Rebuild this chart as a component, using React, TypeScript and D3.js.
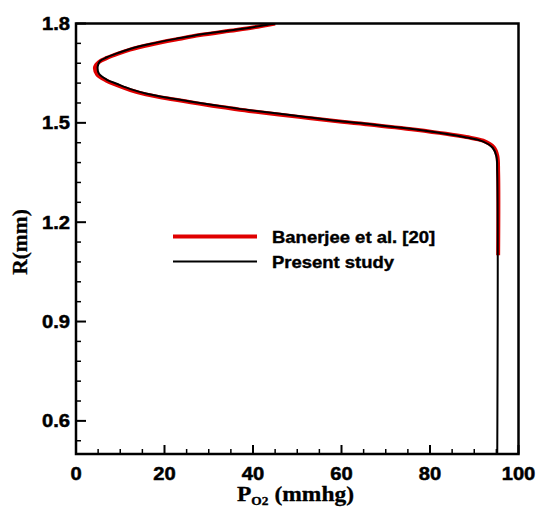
import React from 'react';
import * as d3 from 'd3';

// P_O2 (mmhg) vs R (mm)
const presentP = [45.0, 40.0, 34.8, 28.0, 23.5, 16.7, 12.2, 9.5, 7.0, 5.4, 4.9, 5.2, 7.0, 9.2, 12.5, 16.0, 22.0, 28.0, 33.5, 39.3, 50.6, 60.3, 65.6, 76.9, 88.2, 91.9, 94.2, 95.0, 95.2, 95.2];
const presentR = [1.8, 1.789, 1.779, 1.767, 1.756, 1.738, 1.723, 1.711, 1.698, 1.686, 1.67, 1.648, 1.63, 1.618, 1.601, 1.588, 1.573, 1.56, 1.549, 1.538, 1.52, 1.504, 1.497, 1.48, 1.456, 1.444, 1.424, 1.399, 1.35, 0.5];

const banerjeeP = [45.0, 40.0, 34.8, 28.0, 23.5, 16.7, 12.2, 9.5, 7.0, 5.2, 4.3, 4.8, 6.8, 9.0, 12.3, 15.8, 21.8, 27.8, 33.3, 39.1, 50.4, 60.1, 65.5, 76.8, 88.2, 92.0, 94.4, 95.2, 95.4, 95.4];
const banerjeeR = [1.8, 1.788, 1.778, 1.765, 1.754, 1.736, 1.721, 1.709, 1.696, 1.684, 1.668, 1.646, 1.628, 1.615, 1.599, 1.586, 1.571, 1.558, 1.547, 1.536, 1.518, 1.503, 1.496, 1.479, 1.457, 1.446, 1.426, 1.401, 1.35, 1.1];

const xMajor = [0, 20, 40, 60, 80, 100];
const yMajor = [0.6, 0.9, 1.2, 1.5, 1.8];
const legendLabels = ['Banerjee et al. [20]', 'Present study'];

const W = 539;
const H = 509;
const left = 76, right = 518.5, top = 23.5, bottom = 454;
const sx = 1.12; // text is slightly wide in the reference

export default function App() {
  const x = d3.scaleLinear([0, 100], [left, right]);
  const y = d3.scaleLinear([0.5, 1.8], [bottom, top]);

  const xMinor = d3.range(0, 100.01, 5).filter(v => !xMajor.includes(v));
  const yMinor = d3.range(0.54, 1.8, 0.06).filter(v => !yMajor.some(m => Math.abs(m - v) < 1e-6));

  const line = d3.line<[number, number]>()
    .x(d => x(d[0]))
    .y(d => y(d[1]))
    .curve(d3.curveCatmullRom.alpha(0.5));

  const present = presentP.map((p, i) => [p, presentR[i]] as [number, number]);
  const banerjee = banerjeeP.map((p, i) => [p, banerjeeR[i]] as [number, number]);

  const sans = "'Liberation Sans', Arial, sans-serif";
  const serif = "'Liberation Serif', 'Times New Roman', serif";

  return (
    <svg width={W} height={H} style={{ position: 'absolute', left: 0, top: 0, background: '#fff' }}>
      <defs>
        <clipPath id="plot">
          <rect x={left} y={top} width={right - left} height={bottom - top} />
        </clipPath>
      </defs>

      <g clipPath="url(#plot)" fill="none" strokeLinejoin="round">
        <path d={line(banerjee) || ''} stroke="#e00000" strokeWidth={4} />
        <path d={line(present) || ''} stroke="#000" strokeWidth={2} />
      </g>

      {/* ticks */}
      <g stroke="#000">
        {xMajor.map(v => <line key={'xM' + v} x1={x(v)} x2={x(v)} y1={bottom} y2={bottom - 9} strokeWidth={2} />)}
        {xMinor.map(v => <line key={'xm' + v} x1={x(v)} x2={x(v)} y1={bottom} y2={bottom - 5} strokeWidth={1.5} />)}
        {yMajor.map(v => <line key={'yM' + v} x1={left} x2={left + 10} y1={y(v)} y2={y(v)} strokeWidth={2} />)}
        {yMinor.map(v => <line key={'ym' + v} x1={left} x2={left + 5} y1={y(v)} y2={y(v)} strokeWidth={1.5} />)}
      </g>

      <rect x={left} y={top} width={right - left} height={bottom - top} fill="none" stroke="#000" strokeWidth={2.5} />

      {/* tick labels */}
      <g fontFamily={sans} fontWeight="bold" fontSize={18} fill="#000" stroke="#000" strokeWidth={0.5}>
        {xMajor.map(v => (
          <text key={'xl' + v} transform={`translate(${x(v)},${480}) scale(${sx},1)`} textAnchor="middle">{v}</text>
        ))}
        {yMajor.map(v => (
          <text key={'yl' + v} transform={`translate(${left - 6},${y(v) + 6.5}) scale(${sx},1)`} textAnchor="end">{v.toFixed(1)}</text>
        ))}
      </g>

      {/* axis titles */}
      <text transform={`translate(237,501) scale(${sx},1)`} fontFamily={serif} fontWeight="bold" fontSize={21} fill="#000" stroke="#000" strokeWidth={0.3}>
        <tspan>P</tspan>
        <tspan fontSize={12} dy={4}>O2</tspan>
        <tspan dy={-4}> (mmhg)</tspan>
      </text>
      <text transform="translate(27,242) rotate(-90)" textAnchor="middle" fontFamily={serif} fontWeight="bold" fontSize={21.5} fill="#000" stroke="#000" strokeWidth={0.3}>R(mm)</text>

      {/* legend */}
      <g>
        <line x1={173} x2={257} y1={236.5} y2={236.5} stroke="#e00000" strokeWidth={4} />
        <line x1={173} x2={257} y1={261.5} y2={261.5} stroke="#000" strokeWidth={2} />
        {legendLabels.map((t, i) => (
          <text key={t} transform={`translate(272,${242.5 + i * 25}) scale(${sx},1)`} fontFamily={sans} fontWeight="bold" fontSize={16.5} fill="#000" stroke="#000" strokeWidth={0.4}>{t}</text>
        ))}
      </g>
    </svg>
  );
}
